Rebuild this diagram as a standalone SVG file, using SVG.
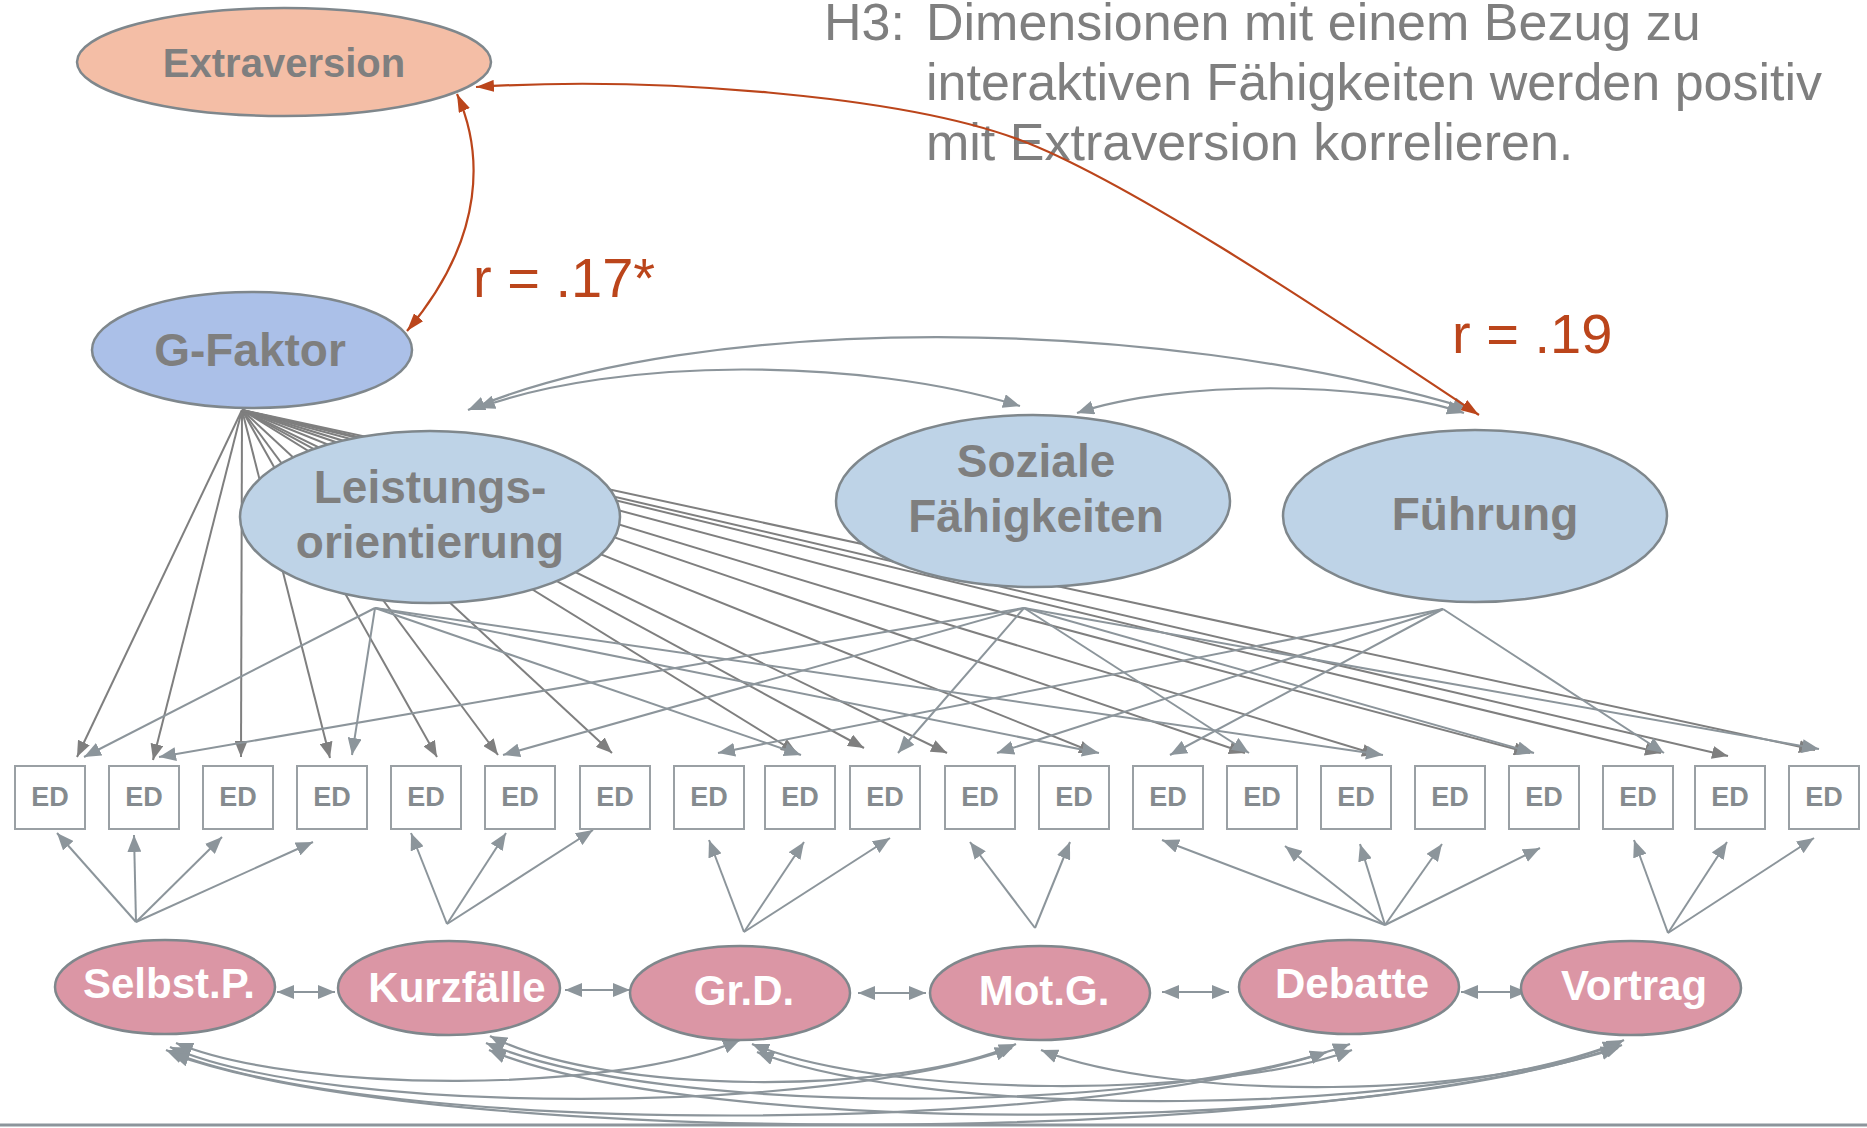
<svg xmlns="http://www.w3.org/2000/svg" width="1867" height="1128" viewBox="0 0 1867 1128">
  <defs>
    <marker id="ahDark" viewBox="0 0 16 13" refX="16" refY="6.5" markerWidth="16" markerHeight="13" markerUnits="userSpaceOnUse" orient="auto-start-reverse">
      <path d="M0,0 L16,6.5 L0,13 z" fill="#7f7f7f"/>
    </marker>
    <marker id="ahGrey" viewBox="0 0 17 14" refX="17" refY="7" markerWidth="17" markerHeight="14" markerUnits="userSpaceOnUse" orient="auto-start-reverse">
      <path d="M0,0 L17,7 L0,14 z" fill="#8c959b"/>
    </marker>
    <marker id="ahRed" viewBox="0 0 18 12" refX="18" refY="6" markerWidth="18" markerHeight="12" markerUnits="userSpaceOnUse" orient="auto-start-reverse">
      <path d="M0,0 L18,6 L0,12 z" fill="#bb451b"/>
    </marker>
  </defs>
  <style>
    .gload { stroke: #7f7f7f; stroke-width: 2; fill: none; marker-end: url(#ahDark); }
    .load { stroke: #8c959b; stroke-width: 2; fill: none; marker-end: url(#ahGrey); }
    .cov { stroke: #8c959b; stroke-width: 2.2; fill: none; marker-start: url(#ahGrey); marker-end: url(#ahGrey); }
    .corr { stroke: #bb451b; stroke-width: 2.2; fill: none; marker-start: url(#ahRed); marker-end: url(#ahRed); }
    .lat { stroke: #7f878c; stroke-width: 2.5; }
    .ext { fill: #f4bea6; }
    .gfac { fill: #abc0e8; }
    .dim { fill: #bed3e7; }
    .meth { fill: #db96a5; }
    .box { fill: #ffffff; stroke: #9aa0a4; stroke-width: 2; }
    .lbl { font-family: "Liberation Sans", Arial, sans-serif; font-weight: bold; fill: #7f7f7f; text-anchor: middle; }
    .mlbl { font-family: "Liberation Sans", Arial, sans-serif; font-weight: bold; fill: #ffffff; text-anchor: middle; font-size: 42px; }
    .ed { font-family: "Liberation Sans", Arial, sans-serif; font-weight: bold; fill: #858b8f; text-anchor: middle; font-size: 27px; }
    .hyp { font-family: "Liberation Sans", Arial, sans-serif; fill: #7f7f7f; font-size: 52px; }
    .rval { font-family: "Liberation Sans", Arial, sans-serif; fill: #bb451b; font-size: 56px; }
  </style>

  <rect width="1867" height="1128" fill="#ffffff"/>

  <!-- hypothesis text -->
  <g id="hypothesis" class="hyp">
    <text x="824" y="40">H3:</text>
    <text x="926" y="40">Dimensionen mit einem Bezug zu</text>
    <text x="926" y="100">interaktiven Fähigkeiten werden positiv</text>
    <text x="926" y="160">mit Extraversion korrelieren.</text>
  </g>

  <!-- all connectors -->
  <g id="connectors">
    <!-- general factor loadings -->
    <g id="g-loadings">
      <line class="gload" x1="242" y1="410" x2="77" y2="757"/>
      <line class="gload" x1="242" y1="410" x2="153" y2="760"/>
      <line class="gload" x1="242" y1="410" x2="241" y2="757"/>
      <line class="gload" x1="242" y1="410" x2="330" y2="758"/>
      <line class="gload" x1="242" y1="410" x2="437" y2="757"/>
      <line class="gload" x1="242" y1="410" x2="498" y2="755"/>
      <line class="gload" x1="242" y1="410" x2="612" y2="753"/>
      <line class="gload" x1="242" y1="410" x2="797" y2="753"/>
      <line class="gload" x1="242" y1="410" x2="864" y2="748"/>
      <line class="gload" x1="242" y1="410" x2="947" y2="753"/>
      <line class="gload" x1="242" y1="410" x2="1095" y2="753"/>
      <line class="gload" x1="242" y1="410" x2="1245" y2="753"/>
      <line class="gload" x1="242" y1="410" x2="1378" y2="755"/>
      <line class="gload" x1="242" y1="410" x2="1530" y2="753"/>
      <line class="gload" x1="242" y1="410" x2="1661" y2="753"/>
      <line class="gload" x1="242" y1="410" x2="1728" y2="756"/>
      <line class="gload" x1="242" y1="410" x2="1815" y2="750"/>
    </g>
    <!-- Leistungsorientierung loadings -->
    <g id="l-loadings">
      <line class="load" x1="375" y1="608" x2="84" y2="757"/>
      <line class="load" x1="375" y1="608" x2="352" y2="755"/>
      <line class="load" x1="375" y1="608" x2="801" y2="755"/>
      <line class="load" x1="375" y1="608" x2="1099" y2="753"/>
      <line class="load" x1="375" y1="608" x2="1383" y2="755"/>
    </g>
    <!-- Soziale Faehigkeiten loadings -->
    <g id="s-loadings">
      <line class="load" x1="1024" y1="608" x2="159" y2="757"/>
      <line class="load" x1="1024" y1="608" x2="503" y2="755"/>
      <line class="load" x1="1024" y1="608" x2="898" y2="753"/>
      <line class="load" x1="1024" y1="608" x2="1249" y2="753"/>
      <line class="load" x1="1024" y1="608" x2="1534" y2="753"/>
      <line class="load" x1="1024" y1="608" x2="1819" y2="749"/>
    </g>
    <!-- Fuehrung loadings -->
    <g id="f-loadings">
      <line class="load" x1="1443" y1="609" x2="718" y2="753"/>
      <line class="load" x1="1443" y1="609" x2="997" y2="753"/>
      <line class="load" x1="1443" y1="609" x2="1170" y2="755"/>
      <line class="load" x1="1443" y1="609" x2="1664" y2="753"/>
    </g>
    <!-- covariances between the three dimensions -->
    <g id="dim-cov">
      <path class="cov" d="M468 410 C700 313 1150 313 1470 409"/>
      <path class="cov" d="M478 408 C620 357 860 357 1020 406"/>
      <path class="cov" d="M1077 413 C1175 380 1365 380 1464 413"/>
    </g>
    <!-- method factor loadings -->
    <g id="m-loadings">
      <line class="load" x1="136" y1="922" x2="57" y2="833"/>
      <line class="load" x1="136" y1="922" x2="134" y2="835"/>
      <line class="load" x1="136" y1="922" x2="222" y2="837"/>
      <line class="load" x1="136" y1="922" x2="313" y2="842"/>
      <line class="load" x1="447" y1="924" x2="411" y2="833"/>
      <line class="load" x1="447" y1="924" x2="506" y2="833"/>
      <line class="load" x1="447" y1="924" x2="593" y2="830"/>
      <line class="load" x1="744" y1="932" x2="709" y2="840"/>
      <line class="load" x1="744" y1="932" x2="804" y2="842"/>
      <line class="load" x1="744" y1="932" x2="890" y2="838"/>
      <line class="load" x1="1035" y1="928" x2="970" y2="842"/>
      <line class="load" x1="1035" y1="928" x2="1070" y2="842"/>
      <line class="load" x1="1385" y1="925" x2="1162" y2="840"/>
      <line class="load" x1="1385" y1="925" x2="1285" y2="846"/>
      <line class="load" x1="1385" y1="925" x2="1360" y2="844"/>
      <line class="load" x1="1385" y1="925" x2="1442" y2="844"/>
      <line class="load" x1="1385" y1="925" x2="1540" y2="848"/>
      <line class="load" x1="1668" y1="933" x2="1634" y2="840"/>
      <line class="load" x1="1668" y1="933" x2="1727" y2="842"/>
      <line class="load" x1="1668" y1="933" x2="1814" y2="838"/>
    </g>
    <!-- neighbouring method covariances -->
    <g id="m-cov-near">
      <line class="cov" x1="277" y1="992" x2="335" y2="992"/>
      <line class="cov" x1="565" y1="990" x2="630" y2="990"/>
      <line class="cov" x1="858" y1="993" x2="926" y2="993"/>
      <line class="cov" x1="1162" y1="992" x2="1229" y2="992"/>
      <line class="cov" x1="1461" y1="992" x2="1527" y2="992"/>
    </g>
    <!-- distant method covariances -->
    <g id="m-cov-far">
      <path class="cov" d="M176 1043 C300 1094 616 1094 740 1040"/>
      <path class="cov" d="M490 1036 C606 1096 900 1096 1016 1044"/>
      <path class="cov" d="M752 1044 C884 1099 1220 1099 1352 1050"/>
      <path class="cov" d="M1041 1050 C1169 1101 1496 1101 1624 1040"/>
      <path class="cov" d="M170 1047 C330 1117 827 1115 1012 1048"/>
      <path class="cov" d="M486 1043 C660 1118 1160 1116 1350 1044"/>
      <path class="cov" d="M757 1052 C930 1120 1430 1118 1620 1042"/>
      <path class="cov" d="M166 1050 C380 1138 1072 1136 1327 1052"/>
      <path class="cov" d="M489 1050 C700 1138 1373 1136 1622 1045"/>
      <path class="cov" d="M172 1054 C440 1150 1300 1148 1618 1048"/>
    </g>
    <!-- correlations with Extraversion -->
    <g id="ext-corr">
      <path class="corr" d="M457 94 C482 150 488 235 407 331"/>
      <path class="corr" d="M476 87 C650 76 900 95 1020 140 C1140 185 1380 350 1479 415"/>
    </g>
  </g>

  <!-- footer rule -->
  <line x1="0" y1="1125" x2="1867" y2="1125" stroke="#8c959b" stroke-width="3"/>

  <!-- latent variables -->
  <g id="node-extraversion">
    <ellipse class="ext lat" cx="284" cy="62" rx="207" ry="54"/>
    <text class="lbl" x="284" y="77" font-size="40">Extraversion</text>
  </g>
  <g id="node-gfaktor">
    <ellipse class="gfac lat" cx="252" cy="350" rx="160" ry="58"/>
    <text class="lbl" x="250" y="366" font-size="46">G-Faktor</text>
  </g>
  <g id="node-leistung">
    <ellipse class="dim lat" cx="430" cy="517" rx="190" ry="86"/>
    <text class="lbl" x="430" y="503" font-size="46">Leistungs-</text>
    <text class="lbl" x="430" y="558" font-size="46">orientierung</text>
  </g>
  <g id="node-sozial">
    <ellipse class="dim lat" cx="1033" cy="501" rx="197" ry="86"/>
    <text class="lbl" x="1036" y="477" font-size="46">Soziale</text>
    <text class="lbl" x="1036" y="532" font-size="46">Fähigkeiten</text>
  </g>
  <g id="node-fuehrung">
    <ellipse class="dim lat" cx="1475" cy="516" rx="192" ry="86"/>
    <text class="lbl" x="1485" y="530" font-size="46">Führung</text>
  </g>

  <!-- exercise ratings -->
  <g id="node-ed01"><rect class="box" x="15" y="766" width="70" height="63"/><text class="ed" x="50" y="806">ED</text></g>
  <g id="node-ed02"><rect class="box" x="109" y="766" width="70" height="63"/><text class="ed" x="144" y="806">ED</text></g>
  <g id="node-ed03"><rect class="box" x="203" y="766" width="70" height="63"/><text class="ed" x="238" y="806">ED</text></g>
  <g id="node-ed04"><rect class="box" x="297" y="766" width="70" height="63"/><text class="ed" x="332" y="806">ED</text></g>
  <g id="node-ed05"><rect class="box" x="391" y="766" width="70" height="63"/><text class="ed" x="426" y="806">ED</text></g>
  <g id="node-ed06"><rect class="box" x="485" y="766" width="70" height="63"/><text class="ed" x="520" y="806">ED</text></g>
  <g id="node-ed07"><rect class="box" x="580" y="766" width="70" height="63"/><text class="ed" x="615" y="806">ED</text></g>
  <g id="node-ed08"><rect class="box" x="674" y="766" width="70" height="63"/><text class="ed" x="709" y="806">ED</text></g>
  <g id="node-ed09"><rect class="box" x="765" y="766" width="70" height="63"/><text class="ed" x="800" y="806">ED</text></g>
  <g id="node-ed10"><rect class="box" x="850" y="766" width="70" height="63"/><text class="ed" x="885" y="806">ED</text></g>
  <g id="node-ed11"><rect class="box" x="945" y="766" width="70" height="63"/><text class="ed" x="980" y="806">ED</text></g>
  <g id="node-ed12"><rect class="box" x="1039" y="766" width="70" height="63"/><text class="ed" x="1074" y="806">ED</text></g>
  <g id="node-ed13"><rect class="box" x="1133" y="766" width="70" height="63"/><text class="ed" x="1168" y="806">ED</text></g>
  <g id="node-ed14"><rect class="box" x="1227" y="766" width="70" height="63"/><text class="ed" x="1262" y="806">ED</text></g>
  <g id="node-ed15"><rect class="box" x="1321" y="766" width="70" height="63"/><text class="ed" x="1356" y="806">ED</text></g>
  <g id="node-ed16"><rect class="box" x="1415" y="766" width="70" height="63"/><text class="ed" x="1450" y="806">ED</text></g>
  <g id="node-ed17"><rect class="box" x="1509" y="766" width="70" height="63"/><text class="ed" x="1544" y="806">ED</text></g>
  <g id="node-ed18"><rect class="box" x="1603" y="766" width="70" height="63"/><text class="ed" x="1638" y="806">ED</text></g>
  <g id="node-ed19"><rect class="box" x="1695" y="766" width="70" height="63"/><text class="ed" x="1730" y="806">ED</text></g>
  <g id="node-ed20"><rect class="box" x="1789" y="766" width="70" height="63"/><text class="ed" x="1824" y="806">ED</text></g>

  <!-- method factors -->
  <g id="node-selbstp">
    <ellipse class="meth lat" cx="165" cy="987" rx="110" ry="47"/>
    <text class="mlbl" x="169" y="998">Selbst.P.</text>
  </g>
  <g id="node-kurzfaelle">
    <ellipse class="meth lat" cx="449" cy="988" rx="111" ry="47"/>
    <text class="mlbl" x="457" y="1002">Kurzfälle</text>
  </g>
  <g id="node-grd">
    <ellipse class="meth lat" cx="740" cy="993" rx="110" ry="47"/>
    <text class="mlbl" x="744" y="1005">Gr.D.</text>
  </g>
  <g id="node-motg">
    <ellipse class="meth lat" cx="1040" cy="993" rx="110" ry="47"/>
    <text class="mlbl" x="1044" y="1005">Mot.G.</text>
  </g>
  <g id="node-debatte">
    <ellipse class="meth lat" cx="1349" cy="987" rx="110" ry="47"/>
    <text class="mlbl" x="1352" y="998">Debatte</text>
  </g>
  <g id="node-vortrag">
    <ellipse class="meth lat" cx="1631" cy="988" rx="110" ry="47"/>
    <text class="mlbl" x="1634" y="1000">Vortrag</text>
  </g>

  <!-- correlation values -->
  <g id="labels">
    <text class="rval" x="473" y="297">r = .17*</text>
    <text class="rval" x="1452" y="353">r = .19</text>
  </g>
</svg>
